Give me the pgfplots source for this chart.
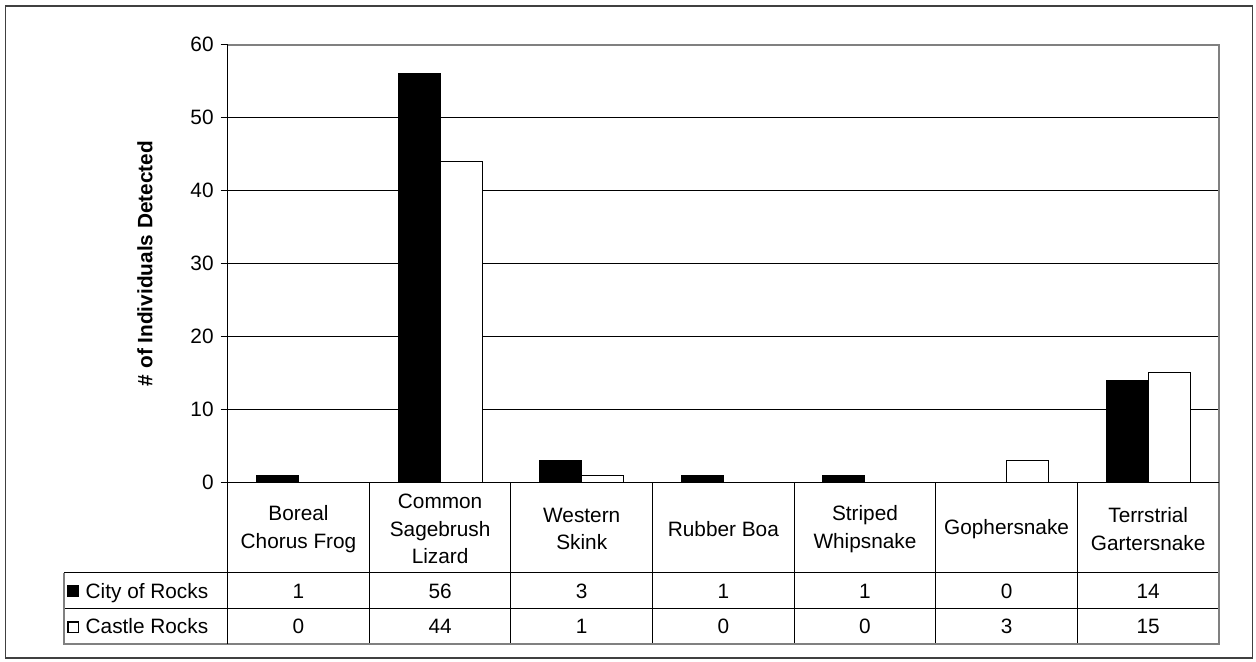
\documentclass[border=0pt]{standalone}
\usepackage{pgfplots}
\pgfplotsset{compat=1.18}
\usepackage{pgfplotstable}
\usepackage{fontspec}
\setmainfont{Liberation Sans}

% Individuals detected per species at the two sites
\pgfplotstableread{
x city castle
0 1  0
1 56 44
2 3  1
3 1  0
4 1  0
5 0  3
6 14 15
}\herps

\newcommand\chartfont{\fontsize{10.4}{13.75}\selectfont}
\definecolor{framegray}{HTML}{808080}

\begin{document}
\begin{tikzpicture}
\useasboundingbox (-113.85pt,-89.85pt) rectangle (514.15pt,241.15pt);
\fill[white] (-113.85pt,-89.85pt) rectangle (514.15pt,241.15pt);
\draw[black!75, line width=0.9pt] (-111.1pt,-87.85pt) rectangle (512.4pt,238.15pt);

\begin{axis}[
  at={(0pt,0pt)}, anchor=south west,
  scale only axis, width=495.65pt, height=218.8pt,
  xmin=-0.5, xmax=6.5, ymin=0, ymax=60,
  ytick={0,10,...,60}, ytick pos=left,
  xtick={0,...,6},
  xticklabels={{Boreal\\Chorus Frog},{Common\\Sagebrush\\Lizard},{Western\\Skink},{Rubber Boa},{Striped\\Whipsnake},{Gophersnake},{Terrstrial\\Gartersnake}},
  xticklabel style={align=center, anchor=center, yshift=-19.9pt},
  x tick style={draw=none},
  y tick style={black, line width=0.5pt},
  tick align=outside, major tick length=3.5pt,
  ymajorgrids, grid style={black, line width=0.5pt},
  axis line style={draw=none},
  font=\chartfont,
  tick label style={font=\chartfont},
  /pgf/number format/assume math mode=true,
  ylabel={\bfseries \# of Individuals Detected},
  every axis y label/.style={at={(axis description cs:-0.0835,0.5)}, rotate=90, anchor=center, font=\chartfont},
  clip=false,
]
\addplot[ybar, bar width=21pt, bar shift=-10.5pt, fill=black, draw=black, line width=0.5pt]
  table[x=x, y=city]{\herps};
\addplot[ybar, bar width=21pt, bar shift=10.5pt, fill=white, draw=black, line width=0.5pt]
  table[x=x, y=castle]{\herps};
% values in the data table rows
\addplot[draw=none, mark=none, nodes near coords, point meta=\thisrow{city},
  nodes near coords style={anchor=center, yshift=-54.35pt, font=\chartfont}]
  table[x=x, y expr=0]{\herps};
\addplot[draw=none, mark=none, nodes near coords, point meta=\thisrow{castle},
  nodes near coords style={anchor=center, yshift=-72.1pt, font=\chartfont}]
  table[x=x, y expr=0]{\herps};
\end{axis}

% data table grid
\draw[black, line width=0.5pt] (-81.85pt,-45.35pt) -- (495.65pt,-45.35pt);
\draw[black, line width=0.5pt] (-81.85pt,-63.35pt) -- (495.65pt,-63.35pt);
\foreach \k in {1,...,6} \draw[black, line width=0.5pt] (\k*70.807pt,0pt) -- (\k*70.807pt,-80.85pt);
\draw[framegray, line width=1pt] (-81.85pt,-45.35pt) -- (-81.85pt,-80.85pt) -- (495.65pt,-80.85pt) -- (495.65pt,0pt);
% plot area frame and axes
\draw[framegray, line width=1pt] (0pt,218.8pt) -- (495.65pt,218.8pt) -- (495.65pt,0pt);
\draw[black, line width=0.6pt] (0pt,218.8pt) -- (0pt,-80.85pt);
\draw[black, line width=0.6pt] (0pt,0pt) -- (495.65pt,0pt);
% legend keys
\fill[black] (-80.1pt,-57.35pt) rectangle (-74.1pt,-51.35pt);
\draw[black, line width=0.7pt, fill=white] (-79.75pt,-75.1pt) rectangle (-74.45pt,-69.8pt);
\node[anchor=base west, font=\chartfont, inner sep=0pt] at (-71.2pt,-58.07pt) {City of Rocks};
\node[anchor=base west, font=\chartfont, inner sep=0pt] at (-71.2pt,-75.82pt) {Castle Rocks};
\end{tikzpicture}
\end{document}
